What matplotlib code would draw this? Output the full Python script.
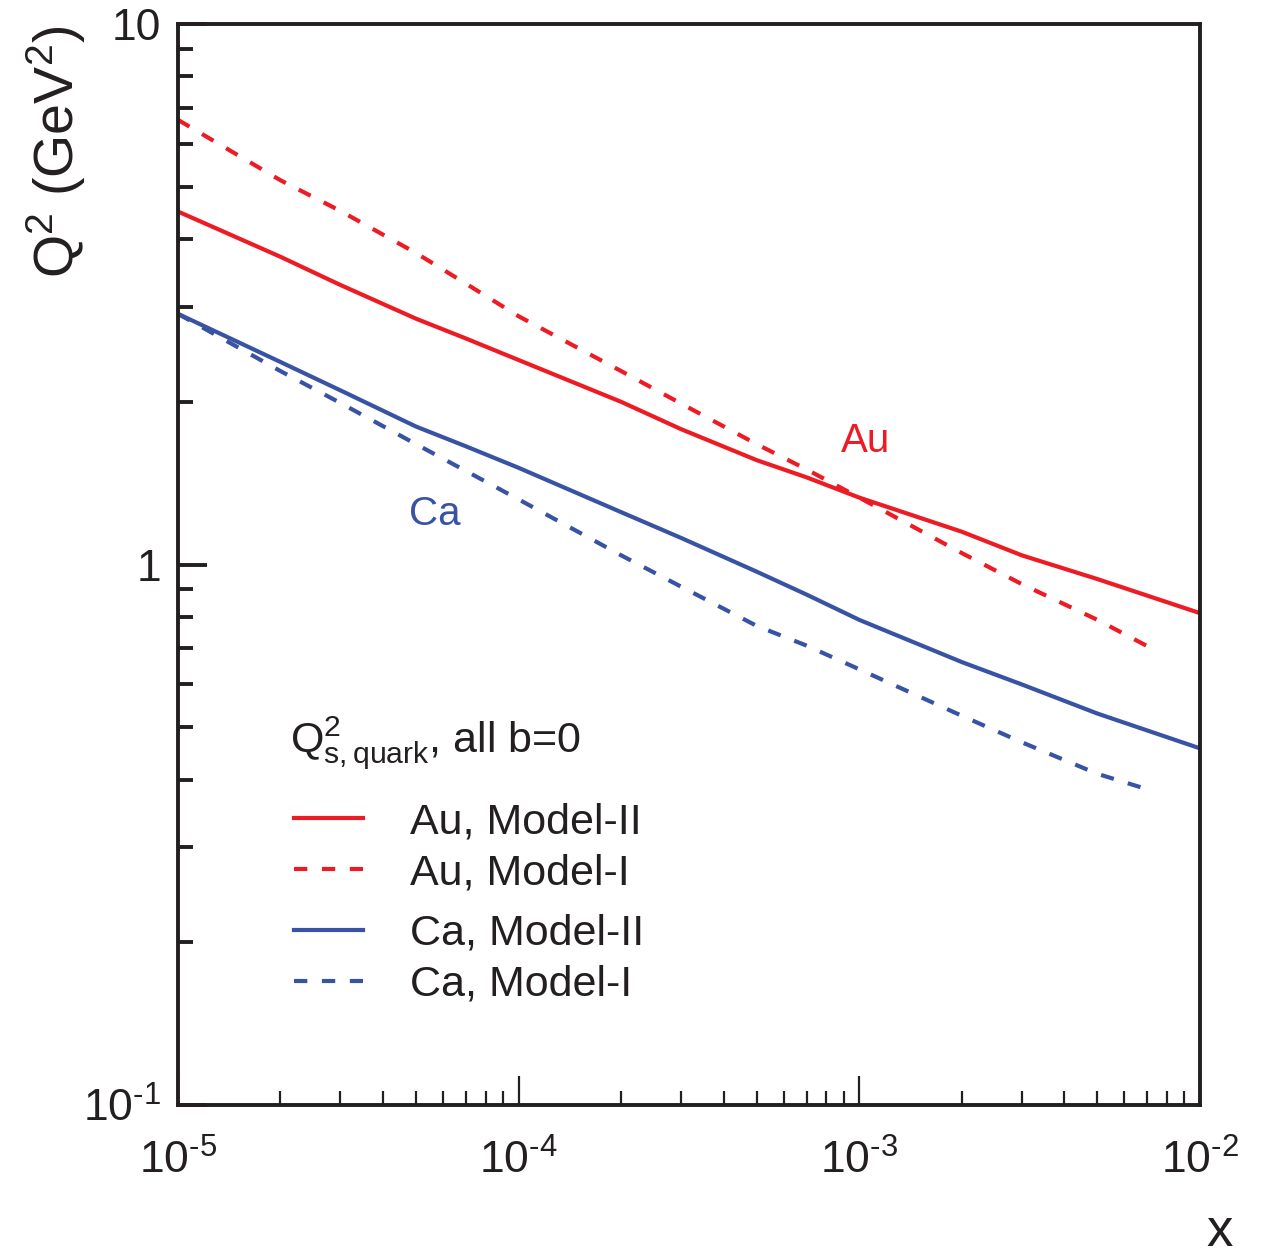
import matplotlib
matplotlib.use("Agg")
import matplotlib.pyplot as plt
from matplotlib.ticker import FixedLocator, FixedFormatter, LogLocator, NullFormatter
from matplotlib.lines import Line2D

plt.rcParams['font.family'] = ['Liberation Sans', 'DejaVu Sans']
plt.rcParams['mathtext.fontset'] = 'custom'
plt.rcParams['mathtext.rm'] = 'Liberation Sans'
plt.rcParams['mathtext.it'] = 'Liberation Sans:italic'
plt.rcParams['mathtext.bf'] = 'Liberation Sans:bold'

# ---- data ----
x_full = [1e-5, 2e-5, 3e-5, 5e-5, 7e-5, 1e-4, 2e-4, 3e-4, 5e-4, 7e-4,
          1e-3, 2e-3, 3e-3, 5e-3, 1e-2]
au_model2 = [4.50, 3.71, 3.29, 2.85, 2.62, 2.39, 2.00, 1.78, 1.56, 1.45,
             1.33, 1.15, 1.04, 0.94, 0.813]
ca_model2 = [2.91, 2.37, 2.10, 1.80, 1.655, 1.51, 1.25, 1.12, 0.97, 0.88,
             0.79, 0.66, 0.60, 0.53, 0.457]

x_au_m1 = [1e-5, 2e-5, 3e-5, 5e-5, 7e-5, 1e-4, 2e-4, 3e-4, 5e-4, 7e-4,
           1e-3, 2e-3, 3e-3, 5e-3, 7.2e-3]
au_model1 = [6.65, 5.14, 4.51, 3.77, 3.31, 2.88, 2.28, 1.985, 1.67, 1.50,
             1.33, 1.05, 0.92, 0.79, 0.70]

x_ca_m1 = [1e-5, 2e-5, 3e-5, 5e-5, 7e-5, 1e-4, 2e-4, 3e-4, 5e-4, 7e-4,
           1e-3, 2e-3, 3e-3, 5e-3, 6.9e-3]
ca_model1 = [2.91, 2.28, 1.99, 1.67, 1.49, 1.32, 1.04, 0.91, 0.77, 0.708,
             0.64, 0.525, 0.469, 0.41, 0.385]

x_ticks = [1e-5, 1e-4, 1e-3, 1e-2]
x_ticklabels = [r"10$^{\text{-}5}$", r"10$^{\text{-}4}$", r"10$^{\text{-}3}$", r"10$^{\text{-}2}$"]
y_ticks = [0.1, 1, 10]
y_ticklabels = [r"10$^{\text{-}1}$", "1", "10"]

legend_labels = ["Au, Model-II", "Au, Model-I", "Ca, Model-II", "Ca, Model-I"]
legend_title = r"Q$^{2}_{\mathregular{s,quark}}$, all b=0"

RED = "#ED1C24"
BLUE = "#3953A4"
INK = "#231F20"

fig = plt.figure(figsize=(12.71, 12.6), dpi=100)
ax = fig.add_axes([0.1400, 0.1230, 0.8041, 0.8579])

lw = 3.0
dash = (3.2, 3.5)
ax.plot(x_full, au_model2, color=RED, lw=lw, solid_joinstyle='round')
ax.plot(x_au_m1, au_model1, color=RED, lw=lw, dashes=dash)
ax.plot(x_full, ca_model2, color=BLUE, lw=lw, solid_joinstyle='round')
ax.plot(x_ca_m1, ca_model1, color=BLUE, lw=lw, dashes=dash)

ax.set_xscale('log')
ax.set_yscale('log')
ax.set_xlim(1e-5, 1e-2)
ax.set_ylim(0.1, 10)

ax.xaxis.set_major_locator(FixedLocator(x_ticks))
ax.xaxis.set_major_formatter(FixedFormatter(x_ticklabels))
ax.xaxis.set_minor_locator(LogLocator(base=10, subs=range(2, 10)))
ax.xaxis.set_minor_formatter(NullFormatter())
ax.yaxis.set_major_locator(FixedLocator(y_ticks))
ax.yaxis.set_major_formatter(FixedFormatter(y_ticklabels))
ax.yaxis.set_minor_locator(LogLocator(base=10, subs=range(2, 10)))
ax.yaxis.set_minor_formatter(NullFormatter())

for s in ax.spines.values():
    s.set_linewidth(2.8)
    s.set_color(INK)

ax.tick_params(axis='x', which='major', direction='in', length=21, width=1.6,
               labelsize=32, pad=25, top=False, color=INK, labelcolor=INK)
ax.tick_params(axis='x', which='minor', direction='in', length=10, width=1.6,
               top=False, color=INK)
ax.tick_params(axis='y', which='major', direction='in', length=21, width=2.8,
               labelsize=32, pad=12, right=False, color=INK, labelcolor=INK)
ax.tick_params(axis='y', which='minor', direction='in', length=11, width=2.8,
               right=False, color=INK)

# axis titles
fig.text(56 / 1271, 1 - 152 / 1260, r"Q$^{2}$ (GeV$^{2}$)", rotation=90,
         ha='center', va='center', fontsize=40, color=INK)
fig.text(1220 / 1271, 1 - 1257 / 1260, "x", ha='center', va='bottom',
         fontsize=38, color=INK)

# curve labels
ax.text(1.04e-3, 1.69, "Au", color=RED, fontsize=29, ha='center', va='center')
ax.text(5.68e-5, 1.24, "Ca", color=BLUE, fontsize=29, ha='center', va='center')

# legend header
ax.text(0.1096, 0.335, legend_title, transform=ax.transAxes, fontsize=31,
        ha='left', va='center', color=INK)

lfs = 31
common = dict(loc='upper left', frameon=False, fontsize=lfs, handlelength=1.6,
              handletextpad=1.1, labelspacing=0.26, borderpad=0, borderaxespad=0,
              labelcolor=INK)
h_au = [Line2D([], [], color=RED, lw=lw), Line2D([], [], color=RED, lw=lw, dashes=dash)]
h_ca = [Line2D([], [], color=BLUE, lw=lw), Line2D([], [], color=BLUE, lw=lw, dashes=dash)]
leg1 = ax.legend(h_au, legend_labels[:2], bbox_to_anchor=(0.1134, 0.280), **common)
ax.add_artist(leg1)
leg2 = ax.legend(h_ca, legend_labels[2:], bbox_to_anchor=(0.1134, 0.177), **common)

fig.savefig("out.png", dpi=100)
